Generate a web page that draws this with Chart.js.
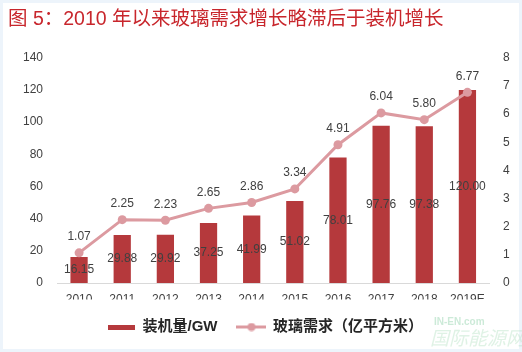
<!DOCTYPE html>
<html>
<head>
<meta charset="utf-8">
<script src="https://cdn.jsdelivr.net/npm/chart.js@4"></script>
<style>
  html, body { margin: 0; padding: 0; background: #ffffff; }
  #chart { display: block; }
</style>
</head>
<body>
<canvas id="chart" width="522" height="352"></canvas>
<script>
const years = ['2010', '2011', '2012', '2013', '2014', '2015', '2016', '2017', '2018', '2019E'];
const capacityGW = [16.15, 29.88, 29.92, 37.25, 41.99, 51.02, 78.01, 97.76, 97.38, 120.00];
const glassDemand = [1.07, 2.25, 2.23, 2.65, 2.86, 3.34, 4.91, 6.04, 5.80, 6.77];

const TITLE = '图 5：2010 年以来玻璃需求增长略滞后于装机增长';
const BAR_COLOR = '#b5393c';
const LINE_COLOR = '#dc9aa0';
const LABEL_COLOR = '#404040';
const FONT = "'Liberation Sans', 'Noto Sans CJK SC', sans-serif";

// legend icons
function makeBarIcon() {
    const c = document.createElement('canvas');
    c.width = 27; c.height = 5;
    const ctx = c.getContext('2d');
    ctx.fillStyle = BAR_COLOR;
    ctx.fillRect(0, 0, 27, 5);
    return c;
}

function makeLineIcon() {
    const c = document.createElement('canvas');
    c.width = 30; c.height = 9;
    const ctx = c.getContext('2d');
    ctx.strokeStyle = LINE_COLOR;
    ctx.lineWidth = 3;
    ctx.beginPath();
    ctx.moveTo(0, 4.5);
    ctx.lineTo(30, 4.5);
    ctx.stroke();
    ctx.fillStyle = LINE_COLOR;
    ctx.beginPath();
    ctx.arc(15, 4.5, 4, 0, Math.PI * 2);
    ctx.fill();
    return c;
}

const barIcon = makeBarIcon();
const lineIcon = makeLineIcon();

const backgroundPlugin = {
    id: 'pageBackground',
    beforeDraw(chart) {
        const ctx = chart.ctx;
        ctx.save();
        ctx.fillStyle = '#edf4fb';
        ctx.fillRect(0, 0, chart.width, chart.height);
        ctx.fillStyle = '#ffffff';
        ctx.fillRect(3, 3, chart.width - 6, chart.height - 6);
        // faint watermark
        ctx.globalAlpha = 0.45;
        ctx.fillStyle = '#8fd0a8';
        ctx.font = "bold 10px " + FONT;
        ctx.textBaseline = 'middle';
        ctx.fillText('IN-EN.com', 434, 322);
        ctx.fillStyle = '#b7e2c6';
        ctx.font = "italic 19px 'Noto Sans CJK SC'";
        ctx.fillText('国际能源网', 430, 338);
        ctx.restore();
    }
};

const valueLabelsPlugin = {
    id: 'valueLabels',
    afterDatasetsDraw(chart) {
        const ctx = chart.ctx;
        ctx.save();
        ctx.font = '12px ' + FONT;
        ctx.fillStyle = LABEL_COLOR;
        ctx.textAlign = 'center';
        ctx.textBaseline = 'middle';
        const barMeta = chart.getDatasetMeta(0);
        barMeta.data.forEach((el, i) => {
            ctx.fillText(capacityGW[i].toFixed(2), el.x, (el.y + el.base) / 2);
        });
        const lineMeta = chart.getDatasetMeta(1);
        lineMeta.data.forEach((el, i) => {
            ctx.fillText(glassDemand[i].toFixed(2), el.x, el.y - 16);
        });
        ctx.restore();
    }
};

new Chart(document.getElementById('chart'), {
    type: 'bar',
    data: {
        labels: years,
        datasets: [
            {
                type: 'bar',
                label: '装机量/GW',
                data: capacityGW,
                backgroundColor: BAR_COLOR,
                yAxisID: 'y',
                categoryPercentage: 1,
                barPercentage: 0.4,
                order: 1
            },
            {
                type: 'line',
                label: '玻璃需求（亿平方米）',
                data: glassDemand,
                borderColor: LINE_COLOR,
                backgroundColor: LINE_COLOR,
                borderWidth: 3,
                pointRadius: 4.5,
                pointBorderWidth: 0,
                tension: 0,
                yAxisID: 'y2',
                order: 0
            }
        ]
    },
    options: {
        responsive: false,
        animation: false,
        devicePixelRatio: 1,
        layout: { padding: { left: 8, right: 0, top: 0, bottom: 7.5 } },
        plugins: {
            tooltip: { enabled: false },
            title: {
                display: true,
                text: TITLE,
                align: 'start',
                color: '#c8262c',
                font: { family: FONT, size: 19.5, weight: 'normal', lineHeight: 1.2 },
                padding: { top: 8.3, bottom: 26 }
            },
            legend: {
                position: 'bottom',
                labels: {
                    usePointStyle: true,
                    pointStyleWidth: 28,
                    padding: 20,
                    color: '#262626',
                    font: { family: FONT, size: 15, weight: 'bold' },
                    sort: (a, b) => a.datasetIndex - b.datasetIndex,
                    generateLabels(chart) {
                        const items = Chart.defaults.plugins.legend.labels.generateLabels(chart);
                        items.forEach(it => {
                            it.pointStyle = it.datasetIndex === 0 ? barIcon : lineIcon;
                        });
                        return items;
                    }
                }
            }
        },
        scales: {
            x: {
                grid: { display: false, drawTicks: false },
                border: { display: true, color: '#d9d9d9', width: 1 },
                ticks: { color: LABEL_COLOR, font: { family: FONT, size: 12 }, padding: 9, maxRotation: 0 },
                afterFit(scale) { scale.height = 16.5; }
            },
            y: {
                position: 'left',
                min: 0,
                max: 140,
                grid: { display: false, drawTicks: false },
                border: { display: false },
                ticks: { stepSize: 20, color: LABEL_COLOR, font: { family: FONT, size: 12 }, padding: 14.5 },
                afterFit(scale) { scale.width = 49.5; }
            },
            y2: {
                position: 'right',
                min: 0,
                max: 8,
                grid: { display: false, drawTicks: false },
                border: { display: false },
                ticks: { stepSize: 1, color: LABEL_COLOR, font: { family: FONT, size: 12 }, padding: 14 },
                afterFit(scale) { scale.width = 33; }
            }
        }
    },
    plugins: [backgroundPlugin, valueLabelsPlugin]
});
</script>
</body>
</html>
